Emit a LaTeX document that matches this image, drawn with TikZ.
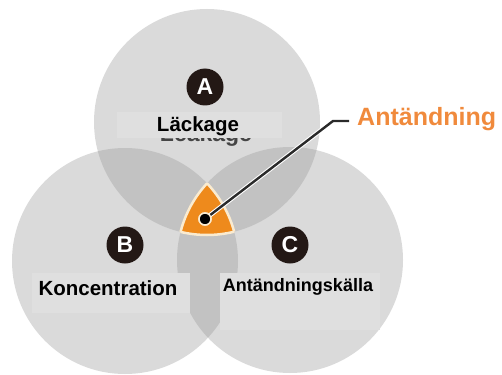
\documentclass[tikz,border=0pt]{standalone}
\usepackage{fontspec}
\setmainfont{Liberation Sans}
\definecolor{circ}{HTML}{DADADA}
\definecolor{pair}{HTML}{C2C2C2}
\definecolor{orng}{HTML}{EE8A1C}
\definecolor{cream}{HTML}{FAEBD0}
\definecolor{ttl}{HTML}{F08A3C}
\definecolor{badgec}{HTML}{231815}
\definecolor{boxc}{HTML}{DFDFDF}
\definecolor{remn}{HTML}{454545}
\definecolor{leader}{HTML}{2A2A2A}
\tikzset{
  badge/.style={circle, fill=badgec, text=white, minimum size=37pt, inner sep=0pt,
    font=\fontsize{23}{23}\selectfont\bfseries},
  lbl/.style={anchor=base, inner sep=0pt, text=black},
  lblbox/.style={fill=boxc},
  dotmark/.style={circle, fill=black, draw=cream, line width=1.5pt, minimum size=12pt, inner sep=0pt},
  halo/.style={draw=white, line width=4.5pt, line join=round},
  leadline/.style={draw=leader, line width=2.4pt, line join=round},
}
\begin{document}
\begin{tikzpicture}[x=1pt,y=-1pt]
\useasboundingbox (0,0) rectangle (502,374);
\def\R{113pt}
\coordinate (ca) at (207,122);
\coordinate (cb) at (125,261);
\coordinate (cc) at (290,260);
% circles
\fill[circ] (ca) circle[radius=\R];
\fill[circ] (cb) circle[radius=\R];
\fill[circ] (cc) circle[radius=\R];
% pair overlaps
\begin{scope}
  \clip (ca) circle[radius=\R];
  \fill[pair] (cb) circle[radius=\R];
  \fill[pair] (cc) circle[radius=\R];
\end{scope}
\begin{scope}
  \clip (cb) circle[radius=\R];
  \fill[pair] (cc) circle[radius=\R];
\end{scope}
% triple overlap
\begin{scope}
  \clip (ca) circle[radius=\R];
  \clip (cb) circle[radius=\R];
  \fill[orng] (cc) circle[radius=\R];
\end{scope}
\begin{scope}
  \clip (ca) circle[radius=\R];
  \clip (cb) circle[radius=\R];
  \draw[cream, line width=2.5pt] (cc) circle[radius=\R];
\end{scope}
\begin{scope}
  \clip (ca) circle[radius=\R];
  \clip (cc) circle[radius=\R];
  \draw[cream, line width=2.5pt] (cb) circle[radius=\R];
\end{scope}
\begin{scope}
  \clip (cb) circle[radius=\R];
  \clip (cc) circle[radius=\R];
  \draw[cream, line width=2.5pt] (ca) circle[radius=\R];
\end{scope}
% remnant text under label box
\begin{scope}
  \clip (100,137.5) rectangle (300,150);
  \node[lbl, text=remn, font=\fontsize{23}{23}\selectfont\bfseries] (leak) at (206,141.5) {Leakage};
\end{scope}
% label boxes
\fill[lblbox] (117,112) rectangle (282,137.5);
\fill[lblbox] (32,273) rectangle (190,313);
\fill[lblbox] (220,273) rectangle (380,330);
% labels
\node[lbl, font=\fontsize{20.5}{24}\selectfont\bfseries] (lack) at (198,131.5) {Läckage};
\node[lbl, font=\fontsize{20.5}{24}\selectfont\bfseries] (konc) at (108,295.5) {Koncentration};
\node[lbl, font=\fontsize{18}{22}\selectfont\bfseries] (antk) at (298,291.5) {Antändningskälla};
% badges
\node[badge] (ba) at (205,87) {A};
\node[badge] (bb) at (125,245) {B};
\node[badge] (bc) at (290,245) {C};
% leader and title
\node[anchor=base west, inner sep=0pt, text=ttl, font=\fontsize{25}{29}\selectfont\bfseries] (title) at (357,126) {Antändning};
\coordinate (bend) at (333,121);
\coordinate (lend) at (349,121);
\node[dotmark] (dot) at (205,219) {};
\draw[halo] (dot.center) -- (bend) -- (lend);
\draw[leadline] (dot.center) -- (bend) -- (lend);
\node[dotmark] at (dot.center) {};
\end{tikzpicture}
\end{document}
